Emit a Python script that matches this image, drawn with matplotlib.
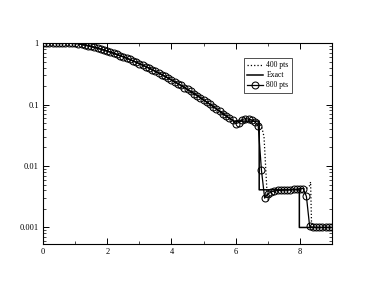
import numpy as np
import matplotlib
matplotlib.use("Agg")
from matplotlib import pyplot as plt
from matplotlib.ticker import LogLocator, FixedLocator, NullFormatter

plt.rcParams['font.family'] = ['Liberation Serif', 'DejaVu Serif']

# exact solution
x_exact = [0.0, 1.0, 1.25, 1.5, 1.75, 2.0, 2.25, 2.5, 2.75, 3.0, 3.25, 3.5, 3.75,
           4.0, 4.25, 4.5, 4.75, 5.0, 5.25, 5.5, 5.75, 5.95, 6.73, 6.73, 7.98, 7.98, 9.0]
y_exact = [1.0, 1.0, 0.944, 0.881, 0.813, 0.741, 0.668, 0.596, 0.527, 0.462, 0.403,
           0.347, 0.296, 0.251, 0.211, 0.176, 0.145, 0.119, 0.0966, 0.0776, 0.0624,
           0.0537, 0.0537, 0.0041, 0.0041, 0.001, 0.001]

# 800 pts
x_800 = np.round(np.arange(0, 91) * 0.1, 2)
y_800 = [1.0, 1.0, 1.0, 1.0, 1.0, 1.0, 1.0, 1.0, 1.0, 1.0, 0.99,
         0.977, 0.955, 0.929, 0.906, 0.881, 0.853, 0.826, 0.798, 0.769, 0.741,
         0.711, 0.682, 0.653, 0.624, 0.596, 0.568, 0.541, 0.514, 0.488, 0.462,
         0.438, 0.414, 0.391, 0.368, 0.347, 0.326, 0.306, 0.287, 0.269, 0.251,
         0.234, 0.219, 0.204, 0.189, 0.176, 0.163, 0.151, 0.140, 0.129, 0.119,
         0.109, 0.101, 0.0925, 0.0847, 0.0776, 0.0711, 0.0652, 0.0597, 0.055, 0.049,
         0.051, 0.057, 0.059, 0.058, 0.056, 0.052, 0.045, 0.0085, 0.0030, 0.0035,
         0.0038, 0.0039, 0.0040, 0.0040, 0.0041, 0.0041, 0.0041, 0.0042, 0.0042, 0.0043,
         0.0043, 0.0032, 0.00105, 0.001, 0.001, 0.001, 0.001, 0.001, 0.001, 0.001]

# 400 pts
x_400 = [0.0, 1.0, 1.5, 2.0, 2.5, 3.0, 3.5, 4.0, 4.5, 5.0, 5.5, 5.9, 6.1, 6.3, 6.5,
         6.7, 6.8, 6.88, 6.97, 7.0, 7.1, 7.3, 7.6, 7.9, 8.2, 8.3, 8.33, 8.36, 8.5, 9.0]
y_400 = [1.0, 0.99, 0.881, 0.741, 0.596, 0.462, 0.347, 0.251, 0.176, 0.119, 0.0776,
         0.056, 0.052, 0.057, 0.056, 0.05, 0.045, 0.03, 0.004, 0.0028, 0.0035, 0.0039,
         0.004, 0.0041, 0.0043, 0.0048, 0.0055, 0.0011, 0.001, 0.001]

fig = plt.figure(figsize=(3.74, 2.89), dpi=100)
ax = fig.add_axes([0.115, 0.156, 0.773, 0.695])

ax.plot(x_400, y_400, ':', color='black', lw=0.9, label='400 pts')
ax.plot(x_exact, y_exact, '-', color='black', lw=1.1, label='Exact')
ax.plot(x_800, y_800, '-', color='black', lw=0.9, marker='o', ms=5,
        mfc='none', mec='black', mew=0.75, label='800 pts')

ax.set_yscale('log')
ax.set_xlim(0, 9)
ax.set_ylim(0.00054, 1.0)

ax.xaxis.set_major_locator(FixedLocator([0, 2, 4, 6, 8]))
ax.xaxis.set_minor_locator(FixedLocator([1, 3, 5, 7]))
ax.yaxis.set_major_locator(FixedLocator([0.001, 0.01, 0.1, 1]))
ax.yaxis.set_minor_locator(LogLocator(base=10, subs=np.arange(2, 10), numticks=20))
ax.yaxis.set_minor_formatter(NullFormatter())
ax.set_yticklabels(['0.001', '0.01', '0.1', '1'])

ax.tick_params(which='both', direction='in', top=True, right=True, labelsize=6, pad=3)
ax.tick_params(which='major', length=4, width=0.7)
ax.tick_params(which='minor', length=2, width=0.5)
for s in ax.spines.values():
    s.set_linewidth(0.8)

leg = ax.legend(loc='upper right', bbox_to_anchor=(0.875, 0.945), fontsize=5.5,
                frameon=True, fancybox=False, edgecolor='black', handlelength=2.0,
                borderpad=0.45, labelspacing=0.25, handletextpad=0.5)
leg.get_frame().set_linewidth(0.6)

fig.savefig('out.png', dpi=100)
